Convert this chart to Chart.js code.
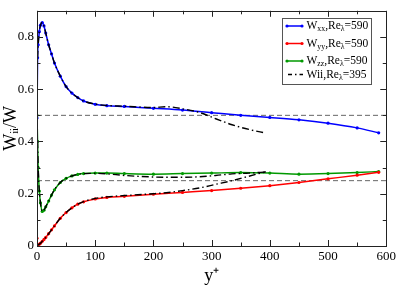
<!DOCTYPE html>
<html><head><meta charset="utf-8">
<script src="https://cdn.jsdelivr.net/npm/chart.js@4/dist/chart.umd.min.js"></script>
<style>html,body{margin:0;padding:0;background:#fff}#wrap{width:399px;height:285px;position:relative}</style>
</head><body><div id="wrap"><canvas id="c" width="399" height="285"></canvas></div>
<script>
// ---- data ----
const yPlus590 = [0,1,2,4,6,9,12,15,20,25,30,40,50,60,70,80,100,120,150,200,250,300,350,400,450,500,550,587];
const wxx590 = [0.49,0.72,0.77,0.82,0.845,0.855,0.842,0.815,0.77,0.735,0.70,0.65,0.61,0.585,0.568,0.555,0.542,0.537,0.534,0.527,0.520,0.510,0.500,0.492,0.483,0.470,0.452,0.433];
const wyy590 = [0.03,0.003,0.004,0.007,0.011,0.018,0.025,0.033,0.047,0.062,0.077,0.106,0.128,0.146,0.160,0.169,0.180,0.186,0.190,0.198,0.205,0.212,0.221,0.231,0.243,0.257,0.271,0.282];
const wzz590 = [0.50,0.40,0.30,0.21,0.165,0.132,0.137,0.150,0.172,0.195,0.215,0.243,0.259,0.268,0.274,0.277,0.279,0.279,0.277,0.275,0.277,0.279,0.281,0.279,0.275,0.277,0.281,0.285];

const yPlus395 = [1,2,4,6,9,12,15,20,25,30,40,50,60,70,80,100,120,150,200,222,250,279,307,335,364,393];
const wxx395 = [0.72,0.77,0.82,0.845,0.855,0.842,0.815,0.77,0.735,0.70,0.65,0.61,0.585,0.568,0.555,0.543,0.538,0.535,0.530,0.533,0.525,0.511,0.487,0.464,0.446,0.432];
const wyy395 = [0.003,0.004,0.007,0.011,0.018,0.025,0.033,0.047,0.062,0.077,0.106,0.128,0.146,0.160,0.170,0.182,0.188,0.193,0.200,0.204,0.212,0.222,0.236,0.250,0.267,0.284];
const wzz395 = [0.40,0.30,0.21,0.165,0.132,0.137,0.150,0.172,0.195,0.215,0.243,0.259,0.268,0.274,0.277,0.278,0.276,0.270,0.264,0.263,0.263,0.265,0.270,0.276,0.279,0.283];

const refLevels = [0.5, 0.25];
const refRange = [0, 600];

const xTicks = [0,100,200,300,400,500,600];
const xTickLabels = ['0','100','200','300','400','500','600'];
const xMinor = [50,150,250,350,450,550];
const yTicks = [0,0.2,0.4,0.6,0.8];
const yTickLabels = ['0','0.2','0.4','0.6','0.8'];
const yMinor = [0.1,0.3,0.5,0.7,0.9];

const legendLabels = ['W_{xx},Re_{λ}=590','W_{yy},Re_{λ}=590','W_{zz},Re_{λ}=590','Wii,Re_{λ}=395'];
const legendColors = ['#0000ff','#ff0000','#009900','#000000'];

// ---- build ----
const pts = (xs, ys) => xs.map((x,i)=>({x, y: ys[i]}));
const FONT = "'Liberation Serif','Times New Roman',serif";
const DASHDOT = [7,3,1.5,3];

function colored(data, color){
  return {data, borderColor: color, backgroundColor: color, borderWidth: 1.5,
    pointRadius: 1.6, pointHoverRadius: 1.6, pointBorderWidth: 0, pointStyle: 'circle',
    cubicInterpolationMode: 'monotone', fill: false, order: 2};
}
function black(data){
  return {data, borderColor: '#000', borderWidth: 1.4, borderDash: DASHDOT,
    pointRadius: 0, cubicInterpolationMode: 'monotone', fill: false, order: 0};
}
const datasets = [
  colored(pts(yPlus590, wxx590), legendColors[0]),
  colored(pts(yPlus590, wyy590), legendColors[1]),
  colored(pts(yPlus590, wzz590), legendColors[2]),
  black(pts(yPlus395, wxx395)),
  black(pts(yPlus395, wyy395)),
  black(pts(yPlus395, wzz395)),
  ...refLevels.map(v => ({data: refRange.map(x=>({x, y:v})), borderColor:'#666', borderWidth:1,
     borderDash:[5,3], pointRadius:0, fill:false, order:3}))
];

function drawRich(ctx, str, x, y, size){
  const re = /_\{([^}]*)\}/g;
  let last = 0, m, cx = x;
  const parts = [];
  while((m = re.exec(str))){
    if(m.index > last) parts.push({t: str.slice(last, m.index), sub:false});
    parts.push({t: m[1], sub:true});
    last = re.lastIndex;
  }
  if(last < str.length) parts.push({t: str.slice(last), sub:false});
  for(const p of parts){
    const fs = p.sub ? size*0.68 : size;
    ctx.font = fs + 'px ' + FONT;
    ctx.fillText(p.t, cx, p.sub ? y + size*0.28 : y);
    cx += ctx.measureText(p.t).width;
  }
}

const decor = {
  id: 'decor',
  afterDatasetsDraw(chart){
    const {ctx, chartArea:a, scales:{x, y}} = chart;
    ctx.save();
    ctx.strokeStyle = '#222'; ctx.lineWidth = 1; ctx.setLineDash([]);
    ctx.beginPath();
    const tx = (v, len) => { const p = Math.round(x.getPixelForValue(v)) + 0.5;
      ctx.moveTo(p, a.bottom); ctx.lineTo(p, a.bottom - len);
      ctx.moveTo(p, a.top); ctx.lineTo(p, a.top + len); };
    const ty = (v, len) => { const p = Math.round(y.getPixelForValue(v)) + 0.5;
      ctx.moveTo(a.left, p); ctx.lineTo(a.left + len, p);
      ctx.moveTo(a.right, p); ctx.lineTo(a.right - len, p); };
    xTicks.forEach(v => tx(v, 6)); xMinor.forEach(v => tx(v, 3.5));
    yTicks.forEach(v => ty(v, 6)); yMinor.forEach(v => ty(v, 3.5));
    ctx.stroke();
    ctx.strokeRect(Math.round(a.left)+0.5, Math.round(a.top)+0.5, Math.round(a.right-a.left), Math.round(a.bottom-a.top));
    ctx.restore();
  },
  afterDraw(chart){
    const {ctx} = chart;
    ctx.save();
    const bx = 282.5, by = 18.5, bw = 89, bh = 66;
    ctx.fillStyle = '#fff'; ctx.fillRect(bx, by, bw, bh);
    ctx.strokeStyle = '#555'; ctx.lineWidth = 1; ctx.strokeRect(bx, by, bw, bh);
    const rows = [26, 43.5, 61, 74.5];
    legendLabels.forEach((lab, i) => {
      const cy = rows[i];
      const c = legendColors[i];
      ctx.strokeStyle = c; ctx.fillStyle = c;
      if(i < 3){
        ctx.lineWidth = 1.5; ctx.setLineDash([]);
        ctx.beginPath(); ctx.moveTo(287, cy); ctx.lineTo(302, cy); ctx.stroke();
        [287, 302].forEach(px => { ctx.beginPath(); ctx.arc(px, cy, 1.6, 0, Math.PI*2); ctx.fill(); });
      } else {
        ctx.lineWidth = 1.4; ctx.setLineDash([4,3,1.5,3]);
        ctx.beginPath(); ctx.moveTo(288, cy); ctx.lineTo(303, cy); ctx.stroke();
        ctx.setLineDash([]);
      }
      ctx.fillStyle = '#000'; ctx.textBaseline = 'middle'; ctx.textAlign = 'left';
      drawRich(ctx, lab, 306.5, cy, 11.5);
    });
    ctx.restore();
  }
};

new Chart(document.getElementById('c'), {
  type: 'line',
  data: { datasets },
  options: {
    responsive: false, animation: false, devicePixelRatio: 1,
    layout: { padding: { top: 2, right: 11, left: 0, bottom: 0 } },
    plugins: { legend: { display: false }, tooltip: { enabled: false } },
    scales: {
      x: {
        type: 'linear', min: 0, max: 600,
        afterBuildTicks: s => { s.ticks = xTicks.map(v => ({value: v})); },
        afterFit: s => { s.height = 39; },
        grid: { display: false, drawTicks: false, tickLength: 0 }, border: { display: false },
        ticks: { font: { family: FONT, size: 13 }, color: '#000', padding: 3,
          maxRotation: 0, autoSkip: false,
          callback: (v) => xTickLabels[xTicks.indexOf(v)] ?? '' },
        title: { display: true, text: 'y⁺', font: { family: FONT, size: 18, lineHeight: 1 }, color: '#000',
          padding: { top: 0, bottom: 0 } }
      },
      y: {
        type: 'linear', min: 0, max: 0.9,
        afterBuildTicks: s => { s.ticks = yTicks.map(v => ({value: v})); },
        afterFit: s => { s.width = 37; },
        grid: { display: false, drawTicks: false, tickLength: 0 }, border: { display: false },
        ticks: { font: { family: FONT, size: 13 }, color: '#000', padding: 3, autoSkip: false,
          callback: (v) => { const i = yTicks.findIndex(t => Math.abs(t - v) < 1e-9); return i >= 0 ? yTickLabels[i] : ''; } },
        title: { display: true, text: 'Wᵢᵢ/W', font: { family: FONT, size: 18 }, color: '#000',
          padding: { top: 0, bottom: 0 } }
      }
    }
  },
  plugins: [decor]
});
</script>
</body></html>
